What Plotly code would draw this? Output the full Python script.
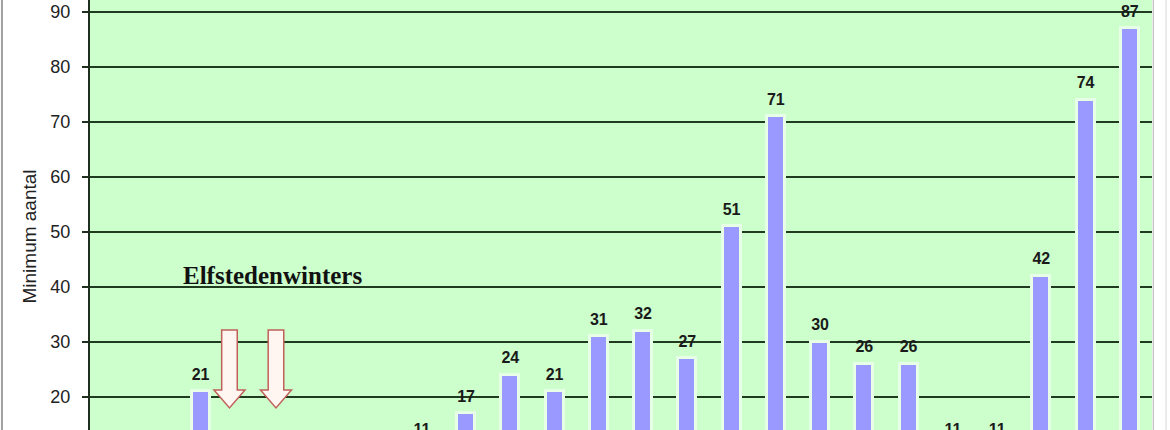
import plotly.graph_objects as go

# Data
seasons = ["82/83", "83/84", "84/85", "85/86", "86/87", "87/88", "88/89", "89/90",
           "90/91", "91/92", "92/93", "93/94", "94/95", "95/96", "96/97", "97/98",
           "98/99", "99/00", "00/01", "01/02", "02/03", "03/04", "04/05", "05/06"]
values = [5, 7, 21, 6, 8, 4, 9, 11, 17, 24, 21, 31, 32, 27, 51, 71, 30, 26, 26, 11, 11, 42, 74, 87]
y_ticks = [20, 30, 40, 50, 60, 70, 80, 90]
y_range = [13.94, 92.13]

x_idx = list(range(len(seasons)))

GRID = "#1f3a1f"
BG = "#ccffcc"
BAR = "#9999ff"
FONT = "Liberation Sans, Arial, sans-serif"

fig = go.Figure()
fig.add_trace(go.Bar(
    x=x_idx, y=values, width=0.41,
    marker=dict(color=BAR, line=dict(color="#e6ffe6", width=3)),
    hoverinfo="skip", showlegend=False,
))
fig.add_trace(go.Scatter(
    x=x_idx, y=values, mode="markers+text",
    text=[str(v) for v in values], textposition="top center",
    textfont=dict(family=FONT, size=16, color="#1a1a1a", weight="bold"),
    marker=dict(size=10, opacity=0),
    cliponaxis=True, hoverinfo="skip", showlegend=False,
))

# Elfstedenwinters arrows (annotation shapes)
def arrow(c, sw=0.176, hw=0.35, yt=32.13, yb=21.22, ytip=17.95):
    return (f"M {c-sw},{yt} L {c+sw},{yt} L {c+sw},{yb} L {c+hw},{yb} "
            f"L {c},{ytip} L {c-hw},{yb} L {c-sw},{yb} Z")

for c in [2.652, 3.703]:
    fig.add_shape(type="path", path=arrow(c), xref="x", yref="y",
                  fillcolor="#fff6f2", line=dict(color="#c0605a", width=1.5))

fig.add_annotation(x=3.624, y=41.95, xref="x", yref="y", text="Elfstedenwinters",
                   showarrow=False, xanchor="center", yanchor="middle",
                   font=dict(family="Liberation Serif, Times New Roman, serif", size=25,
                             color="#111111", weight="bold"))

fig.add_annotation(x=-0.057, y=0.451, xref="paper", yref="paper", text="Minimum aantal",
                   showarrow=False, textangle=-90, xanchor="center", yanchor="middle",
                   font=dict(family=FONT, size=19, color="#222222"))

# outer frame lines
fig.add_shape(type="line", xref="paper", yref="paper", x0=-0.0829, x1=-0.0829, y0=0, y1=1,
              line=dict(color="#a0a0a0", width=2))
fig.add_shape(type="line", xref="paper", yref="paper", x0=1.0012, x1=1.0012, y0=0, y1=1,
              line=dict(color="#b0b0b0", width=1))
fig.add_shape(type="line", xref="paper", yref="paper", x0=1.0132, x1=1.0132, y0=0, y1=1,
              line=dict(color="#d8d8d8", width=1))

fig.update_layout(
    width=1170, height=430,
    margin=dict(l=90, r=18, t=0, b=0, autoexpand=False),
    paper_bgcolor="white", plot_bgcolor=BG,
    bargap=0,
    font=dict(family=FONT),
    xaxis=dict(range=[-0.5, len(seasons) - 0.5], showticklabels=False, showgrid=False,
               zeroline=False, showline=False, ticks="",
               tickvals=x_idx, ticktext=seasons, automargin=False),
    yaxis=dict(range=y_range, tickvals=y_ticks, showgrid=True, gridcolor=GRID, gridwidth=2,
               zeroline=False, showline=True, linecolor="#1f2f1f", linewidth=2,
               ticks="outside", ticklen=6, tickwidth=2, tickcolor="#1f2f1f",
               tickfont=dict(family=FONT, size=18, color="#222222"),
               ticklabelstandoff=8, automargin=False),
)

fig.write_html("out.html", config={"displayModeBar": False},
               post_script="document.body.style.margin='0';document.body.style.overflow='hidden';")
